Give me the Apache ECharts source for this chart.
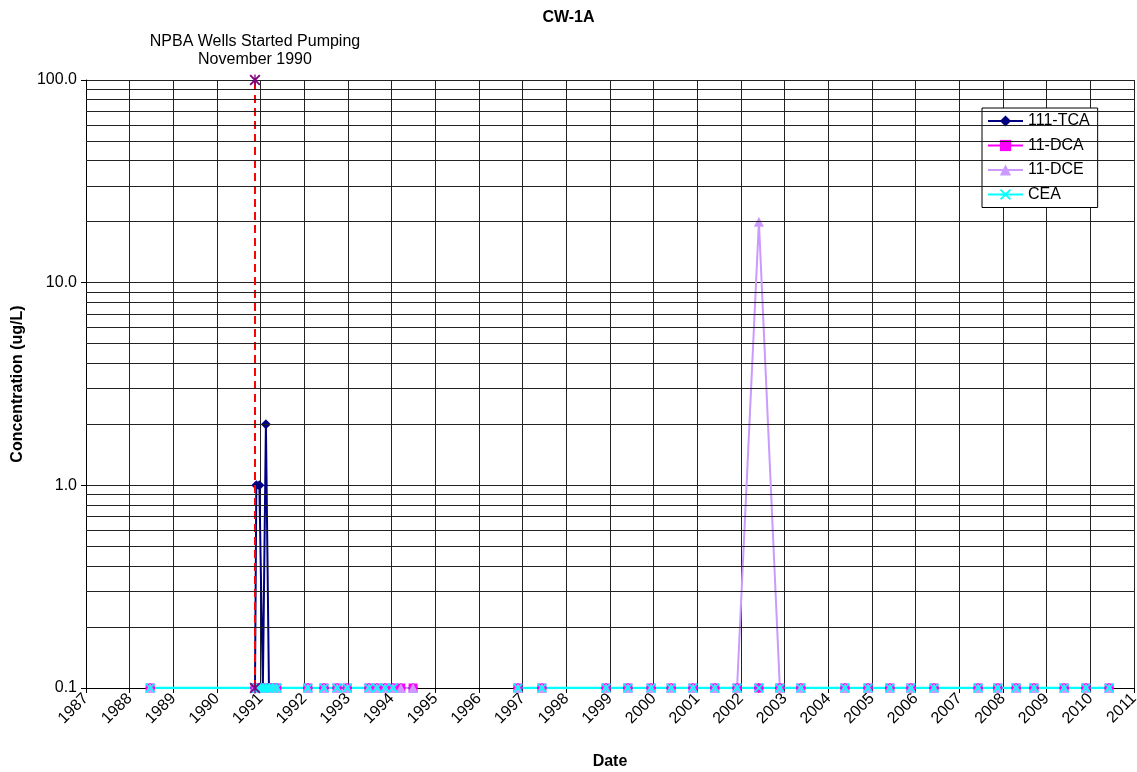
<!DOCTYPE html>
<html>
<head>
<meta charset="utf-8">
<script src="https://cdn.jsdelivr.net/npm/echarts@6/dist/echarts.min.js"></script>
<style>
html,body{margin:0;padding:0;background:#fff;}
#chart{width:1137px;height:772px;}
</style>
</head>
<body>
<div id="chart"></div>
<script>
// Sample dates as decimal years (null-row at 1995.70 marks the gap in the record)
const sampleYears = [1988.47, 1990.87, 1990.90, 1990.97, 1991.05, 1991.12, 1991.19, 1991.28, 1991.37,
  1992.08, 1992.45, 1992.75, 1992.98, 1993.48, 1993.66, 1993.85, 1994.03, 1994.21, 1994.49,
  1995.70,
  1996.89, 1997.44, 1998.91, 1999.41, 1999.94, 2000.40, 2000.90, 2001.40, 2001.91, 2002.41,
  2002.89, 2003.37, 2004.38, 2004.91, 2005.41, 2005.89, 2006.42, 2007.43, 2007.88, 2008.30,
  2008.71, 2009.40, 2009.90, 2010.43];

const tca = [0.1, 0.1, 1.0, 1.0, 0.1, 2.0, 0.1, 0.1, 0.1,
  0.1, 0.1, 0.1, 0.1, 0.1, 0.1, 0.1, 0.1, 0.1, 0.1,
  null,
  0.1, 0.1, 0.1, 0.1, 0.1, 0.1, 0.1, 0.1, 0.1, 0.1,
  0.1, 0.1, 0.1, 0.1, 0.1, 0.1, 0.1, 0.1, 0.1, 0.1,
  0.1, 0.1, 0.1, 0.1];

const dca = [0.1, 0.1, 0.1, 0.1, 0.1, 0.1, 0.1, 0.1, 0.1,
  0.1, 0.1, 0.1, 0.1, 0.1, 0.1, 0.1, 0.1, 0.1, 0.1,
  null,
  0.1, 0.1, 0.1, 0.1, 0.1, 0.1, 0.1, 0.1, 0.1, 0.1,
  0.1, 0.1, 0.1, 0.1, 0.1, 0.1, 0.1, 0.1, 0.1, 0.1,
  0.1, 0.1, 0.1, 0.1];

const dce = [0.1, 0.1, 0.1, 0.1, 0.1, 0.1, 0.1, 0.1, 0.1,
  0.1, 0.1, 0.1, 0.1, 0.1, 0.1, 0.1, 0.1, 0.1, 0.1,
  null,
  0.1, 0.1, 0.1, 0.1, 0.1, 0.1, 0.1, 0.1, 0.1, 20.0,
  0.1, 0.1, 0.1, 0.1, 0.1, 0.1, 0.1, 0.1, 0.1, 0.1,
  0.1, 0.1, 0.1, 0.1];

const cea = [0.1, 0.1, 0.1, 0.1, 0.1, 0.1, 0.1, 0.1, 0.1,
  0.1, 0.1, 0.1, 0.1, 0.1, 0.1, 0.1, 0.1, null, null,
  null,
  0.1, 0.1, 0.1, 0.1, 0.1, 0.1, 0.1, 0.1, 0.1, 0.1,
  0.1, 0.1, 0.1, 0.1, 0.1, 0.1, 0.1, 0.1, 0.1, 0.1,
  0.1, 0.1, 0.1, 0.1];

const npbaYear = 1990.87;
const npbaRange = [0.1, 100];
const seriesNames = ['111-TCA', '11-DCA', '11-DCE', 'CEA'];
const yTickValues = [0.1, 1, 10, 100];
const minorGridValues = [0.2,0.3,0.4,0.5,0.6,0.7,0.8,0.9, 2,3,4,5,6,7,8,9, 20,30,40,50,60,70,80,90];

const FONT = 'Liberation Sans, Arial, sans-serif';
const xSym = 'path://M0,1.2L1.2,0L5,3.8L8.8,0L10,1.2L6.2,5L10,8.8L8.8,10L5,6.2L1.2,10L0,8.8L3.8,5Z';
const starSym = 'path://M0,1.2L1.2,0L5,3.8L8.8,0L10,1.2L6.2,5L10,8.8L8.8,10L5,6.2L1.2,10L0,8.8L3.8,5Z M4.4,0L5.6,0L5.6,10L4.4,10Z';

function build(vals) {
  return sampleYears.map((x, i) => [x, vals[i] === null ? '-' : vals[i]]);
}

const chart = echarts.init(document.getElementById('chart'));
chart.setOption({
  animation: false,
  backgroundColor: '#fff',
  title: {
    text: 'CW-1A', left: 'center', top: 5,
    textStyle: {fontFamily: FONT, fontSize: 16, fontWeight: 'bold', color: '#000'}
  },
  legend: {
    data: seriesNames,
    orient: 'vertical',
    left: 982, top: 108,
    padding: [5, 8, 5, 5],
    itemWidth: 35, itemHeight: 14, itemGap: 8.5,
    backgroundColor: '#fff', borderColor: '#000', borderWidth: 1, borderRadius: 0,
    textStyle: {fontFamily: FONT, fontSize: 16, color: '#000', lineHeight: 16}
  },
  grid: {left: 86, right: 3, top: 80, bottom: 84, containLabel: false, outerBoundsMode: 'none'},
  xAxis: {
    type: 'value', min: 1987, max: 2011, interval: 1,
    name: 'Date', nameLocation: 'middle', nameGap: 66,
    nameTextStyle: {fontFamily: FONT, fontSize: 16, fontWeight: 'bold', color: '#000'},
    axisLine: {show: true, onZero: false, lineStyle: {color: '#000', width: 1}},
    axisTick: {show: true, length: 5, lineStyle: {color: '#000'}},
    axisLabel: {rotate: 45, margin: 8, fontFamily: FONT, fontSize: 16, color: '#000',
      formatter: v => String(Math.round(v))},
    splitLine: {show: true, lineStyle: {color: '#222', width: 1}}
  },
  yAxis: {
    type: 'log', logBase: 10, min: 0.1, max: 100,
    name: 'Concentration (ug/L)', nameLocation: 'middle', nameGap: 60,
    nameTextStyle: {fontFamily: FONT, fontSize: 16, fontWeight: 'bold', color: '#000'},
    axisLine: {show: true, lineStyle: {color: '#000', width: 1}},
    axisTick: {show: true, length: 5, lineStyle: {color: '#000'}},
    axisLabel: {fontFamily: FONT, fontSize: 16, color: '#000', margin: 9,
      formatter: v => {
        const near = yTickValues.find(t => Math.abs(t - v) / t < 1e-6);
        return near !== undefined ? near.toFixed(1) : '';
      }},
    splitLine: {show: true, lineStyle: {color: '#222', width: 1}}
  },
  series: [
    {
      name: 'grid', type: 'line', data: [], z: 1, silent: true,
      markLine: {
        silent: true, symbol: ['none', 'none'], animation: false,
        label: {show: false},
        lineStyle: {color: '#222', width: 1, type: 'solid'},
        emphasis: {disabled: true},
        data: minorGridValues.map(v => ({yAxis: v}))
      }
    },
    {
      name: '111-TCA', type: 'line', data: build(tca), z: 3,
      symbol: 'diamond', symbolSize: 10, connectNulls: false,
      itemStyle: {color: '#000080'},
      lineStyle: {color: '#000080', width: 2}
    },
    {
      name: '11-DCA', type: 'line', data: build(dca), z: 3,
      symbol: 'rect', symbolSize: 9, connectNulls: false,
      itemStyle: {color: '#FF00FF'},
      lineStyle: {color: '#FF00FF', width: 2}
    },
    {
      name: '11-DCE', type: 'line', data: build(dce), z: 3,
      symbol: 'triangle', symbolSize: 10, connectNulls: false,
      itemStyle: {color: '#CC99FF'},
      lineStyle: {color: '#CC99FF', width: 2}
    },
    {
      name: 'CEA', type: 'line', data: build(cea), z: 3,
      symbol: xSym, symbolSize: 10, connectNulls: false,
      itemStyle: {color: '#00FFFF'},
      lineStyle: {color: '#00FFFF', width: 2.5}
    },
    {
      name: 'NPBA', type: 'line', z: 4,
      data: npbaRange.map(v => [npbaYear, v]),
      symbol: starSym, symbolSize: 11,
      itemStyle: {color: '#800080'},
      lineStyle: {color: '#FF0000', width: 2, type: [8, 5]},
      label: {
        show: true,
        position: 'top', distance: 6,
        formatter: p => p.dataIndex === 1 ? 'NPBA Wells Started Pumping\nNovember 1990' : '',
        fontFamily: FONT, fontSize: 16, lineHeight: 18, color: '#000', align: 'center'
      }
    }
  ]
});
</script>
</body>
</html>
